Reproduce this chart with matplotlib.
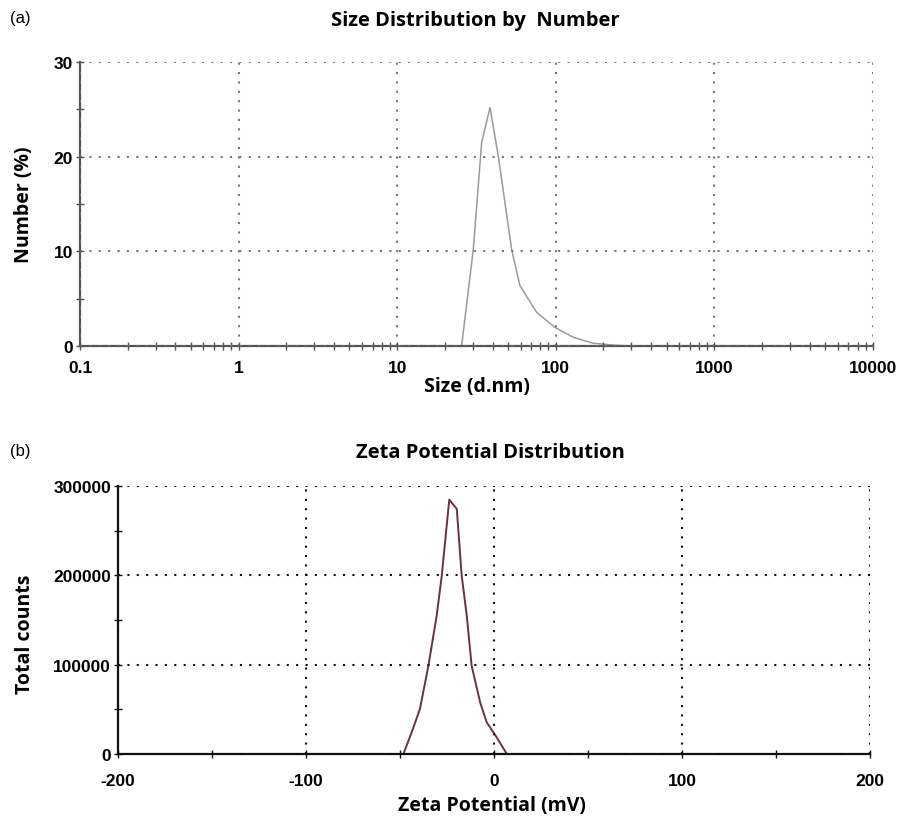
import matplotlib.pyplot as plt
from matplotlib.ticker import FixedLocator, LogLocator, NullFormatter

# size distribution by number
size_nm = [0.1, 1, 10, 25.5, 30.2, 34.1, 38.5, 43.4, 52.7, 59.4, 75.7, 98.8, 129, 172, 229, 300, 1000, 10000]
number_pct = [0, 0, 0, 0, 10.2, 21.5, 25.2, 20.1, 10.2, 6.4, 3.56, 1.97, 0.92, 0.3, 0.1, 0, 0, 0]

# zeta potential distribution
zeta_mv = [-200, -48.2, -43.8, -39.4, -34.9, -30.5, -27.8, -23.8, -19.8, -17.2, -14.5, -11.9, -7.4, -3.9, 1.4, 6.8, 200]
counts = [0, 0, 24300, 50400, 98800, 154800, 199600, 284700, 274300, 199600, 154800, 98800, 57900, 35500, 18700, 0, 0]

size_ticks = [0.1, 1, 10, 100, 1000, 10000]
size_labels = ["0.1", "1", "10", "100", "1000", "10000"]
zeta_ticks = [-200, -100, 0, 100, 200]
zeta_labels = ["-200", "-100", "0", "100", "200"]

tick_font = dict(family="Liberation Sans", weight="bold", size=12.5)
lab_font = dict(family="Open Sans", weight="bold", size=14)
title_font = dict(family="Open Sans", weight="bold", size=14.5)

fig = plt.figure(figsize=(9.01, 8.2), dpi=100)

# ---- (a) size distribution
ax1 = fig.add_axes([0.0888, 0.5768, 0.8800, 0.3463])
ax1.plot(size_nm, number_pct, color="#9a9a9a", lw=1.1)
ax1.set_xscale("log")
ax1.set_xlim(0.1, 10000)
ax1.set_ylim(0, 30)
ax1.set_xticks(size_ticks)
ax1.set_xticklabels(size_labels, **tick_font)
ax1.xaxis.set_minor_locator(LogLocator(base=10, subs=range(2, 10)))
ax1.xaxis.set_minor_formatter(NullFormatter())
ax1.set_yticks([0, 10, 20, 30])
ax1.set_yticklabels(["0", "10", "20", "30"], **tick_font)
ax1.yaxis.set_minor_locator(FixedLocator([5, 15, 25]))
ax1.grid(True, which="major", color="#777777", lw=1.5, linestyle=(0, (1, 3.5)))
ax1.set_xlabel("Size (d.nm)", va="center", **lab_font)
ax1.xaxis.set_label_coords(0.5, -0.142)
ax1.set_ylabel("Number (%)", va="center", **lab_font)
ax1.yaxis.set_label_coords(-0.0706, 0.5)

# ---- (b) zeta potential
ax2 = fig.add_axes([0.131, 0.0793, 0.8346, 0.3268])
ax2.plot(zeta_mv, counts, color="#6b2f4a", lw=1.4)
ax2.set_xlim(-200, 200)
ax2.set_ylim(0, 300000)
ax2.set_xticks(zeta_ticks)
ax2.set_xticklabels(zeta_labels, **tick_font)
ax2.xaxis.set_minor_locator(FixedLocator([-150, -50, 50, 150]))
ax2.set_yticks([0, 100000, 200000, 300000])
ax2.set_yticklabels(["0", "100000", "200000", "300000"], **tick_font)
ax2.yaxis.set_minor_locator(FixedLocator([50000, 150000, 250000]))
ax2.grid(True, which="major", color="#111111", lw=1.5, linestyle=(0, (1, 3.5)))
ax2.set_xlabel("Zeta Potential (mV)", va="center", **lab_font)
ax2.xaxis.set_label_coords(0.497, -0.19)
ax2.set_ylabel("Total counts", va="center", **lab_font)
ax2.yaxis.set_label_coords(-0.124, 0.45)

for ax, spcol in ((ax1, "#555555"), (ax2, "#111111")):
    ax.spines["top"].set_visible(False)
    ax.spines["right"].set_visible(False)
    ax.spines["left"].set_color(spcol)
    ax.spines["bottom"].set_color(spcol)
    ax.spines["left"].set_linewidth(1.6)
    ax.spines["bottom"].set_linewidth(1.6)
    ax.tick_params(which="both", direction="inout", length=6, width=1, colors=spcol, labelcolor="black", pad=2)
    ax.set_axisbelow(False)
ax1.tick_params(axis="x", pad=7)
ax2.tick_params(axis="x", pad=11)

fig.text(0.527, 0.974, "Size Distribution by  Number", ha="center", va="center", **title_font)
fig.text(0.544, 0.447, "Zeta Potential Distribution", ha="center", va="center", **title_font)
fig.text(0.011, 0.978, "(a)", family="Liberation Sans", size=12, va="center")
fig.text(0.011, 0.449, "(b)", family="Liberation Sans", size=12, va="center")

fig.savefig("out.png", dpi=100)
